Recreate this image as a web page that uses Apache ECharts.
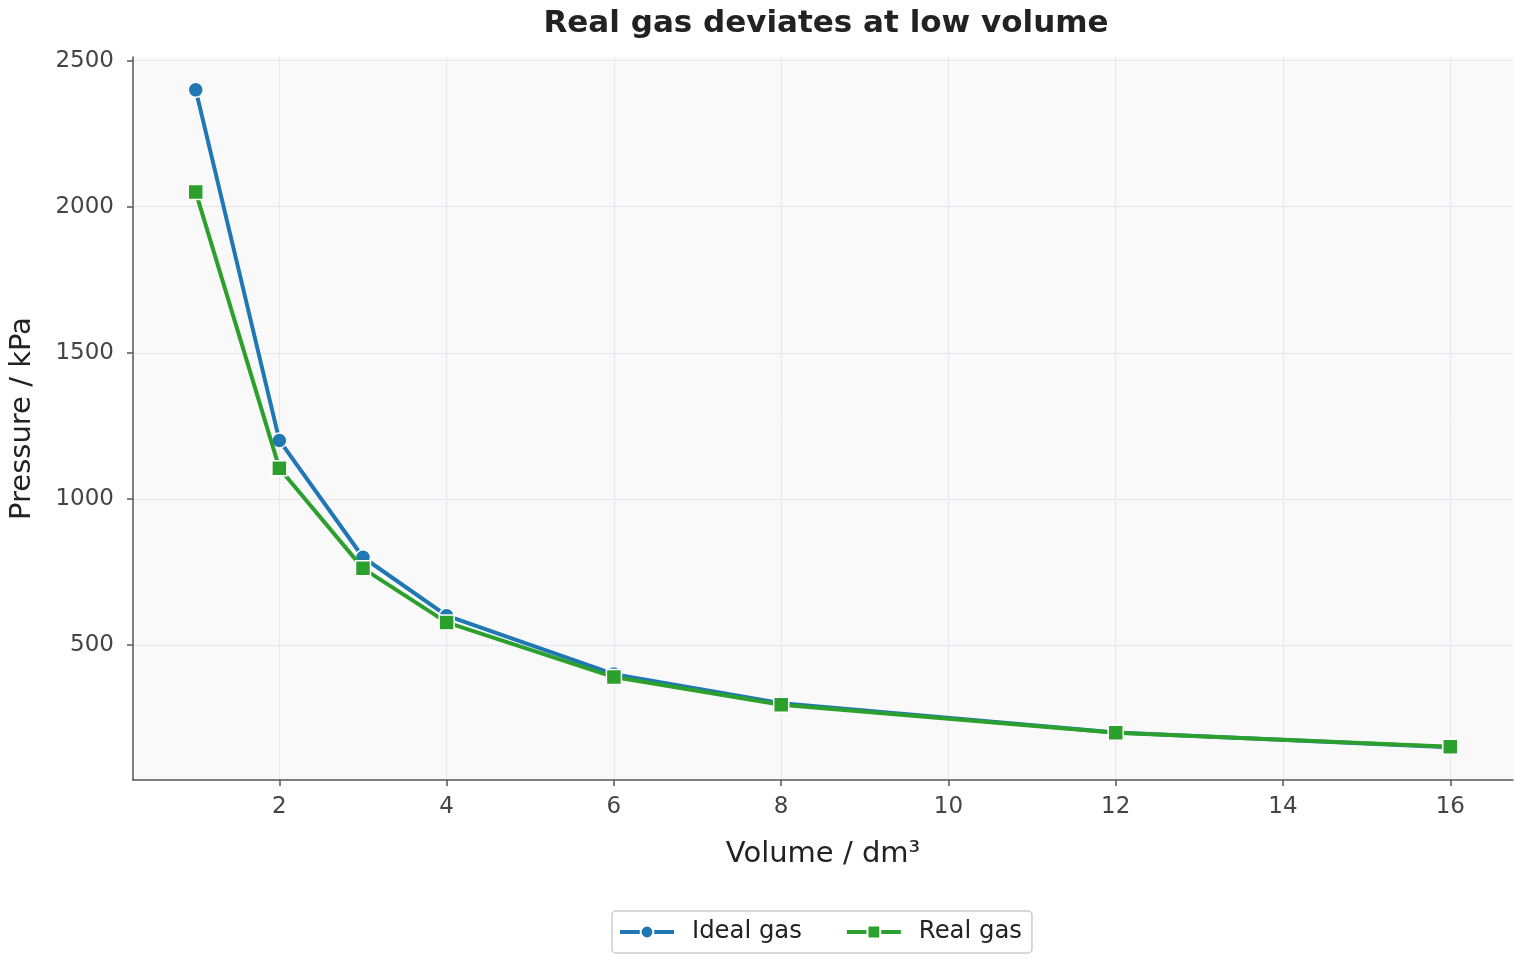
<!DOCTYPE html>
<html><head><meta charset="utf-8">
<script src="https://cdn.jsdelivr.net/npm/echarts@6/dist/echarts.min.js"></script>
<style>html,body{margin:0;padding:0;background:#fff}#c{width:1520px;height:960px}</style>
</head><body><div id="c"></div>
<script>
const volumes = [1, 2, 3, 4, 6, 8, 12, 16];
const idealGas = [2400, 1200, 800, 600, 400, 300, 200, 150];
const realGas = [2050, 1105, 762, 577, 390, 295, 199, 151];
const xTicks = [2, 4, 6, 8, 10, 12, 14, 16];
const yTicks = [500, 1000, 1500, 2000, 2500];

const chart = echarts.init(document.getElementById('c'));
const font = 'DejaVu Sans';
chart.setOption({
  backgroundColor: '#fff',
  animation: false,
  title: {
    text: 'Real gas deviates at low volume',
    left: 821, top: 3, textAlign: 'center',
    textStyle: {fontFamily: font, fontSize: 31, fontWeight: 'bold', color: '#222'}
  },
  legend: {
    bottom: 7, left: 612,
    data: ['Ideal gas', 'Real gas'],
    itemWidth: 54, itemHeight: 16, itemGap: 43,
    padding: [9, 10, 9, 6],
    borderColor: '#cccccc', borderWidth: 1.5, borderRadius: 4,
    lineStyle: {width: 4},
    textStyle: {fontFamily: font, fontSize: 24.3, color: '#222', padding: [0, 0, 0, 13]}
  },
  grid: {left: 131, right: 7, top: 57, bottom: 180, show: true, backgroundColor: '#f9f9fa', borderWidth: 0},
  xAxis: {
    type: 'value', min: 0.25, max: 16.75,
    name: 'Volume / dm³', nameLocation: 'middle', nameGap: 60,
    nameTextStyle: {fontFamily: font, fontSize: 29, color: '#222'},
    axisLine: {show: true, lineStyle: {color: '#555', width: 1.5}},
    axisTick: {show: true, length: 6, lineStyle: {color: '#555', width: 1.5}, customValues: xTicks},
    axisLabel: {fontFamily: font, fontSize: 23, color: '#444', margin: 16, customValues: xTicks,
      formatter: v => String(v)},
    splitLine: {show: true, lineStyle: {color: '#e5e7eb', width: 1}}
  },
  yAxis: {
    type: 'value', min: 37.5, max: 2512.5,
    name: 'Pressure / kPa', nameLocation: 'middle', nameGap: 96, nameRotate: 90,
    nameTextStyle: {fontFamily: font, fontSize: 29, color: '#222'},
    axisLine: {show: true, lineStyle: {color: '#555', width: 1.5}},
    axisTick: {show: true, length: 6, lineStyle: {color: '#555', width: 1.5}, customValues: yTicks},
    axisLabel: {fontFamily: font, fontSize: 23, color: '#444', margin: 19, customValues: yTicks,
      formatter: v => String(v)},
    splitLine: {show: true, lineStyle: {color: '#e5e7eb', width: 1}}
  },
  series: [
    {
      name: 'Ideal gas', type: 'line',
      data: volumes.map((v, i) => [v, idealGas[i]]),
      symbol: 'circle', symbolSize: 15,
      lineStyle: {color: '#1f77b4', width: 4},
      itemStyle: {color: '#1f77b4', borderColor: '#fff', borderWidth: 1.5},
      z: 2
    },
    {
      name: 'Real gas', type: 'line',
      data: volumes.map((v, i) => [v, realGas[i]]),
      symbol: 'rect', symbolSize: 15,
      lineStyle: {color: '#2ca02c', width: 4},
      itemStyle: {color: '#2ca02c', borderColor: '#fff', borderWidth: 1.5},
      z: 3
    }
  ]
});
</script></body></html>
